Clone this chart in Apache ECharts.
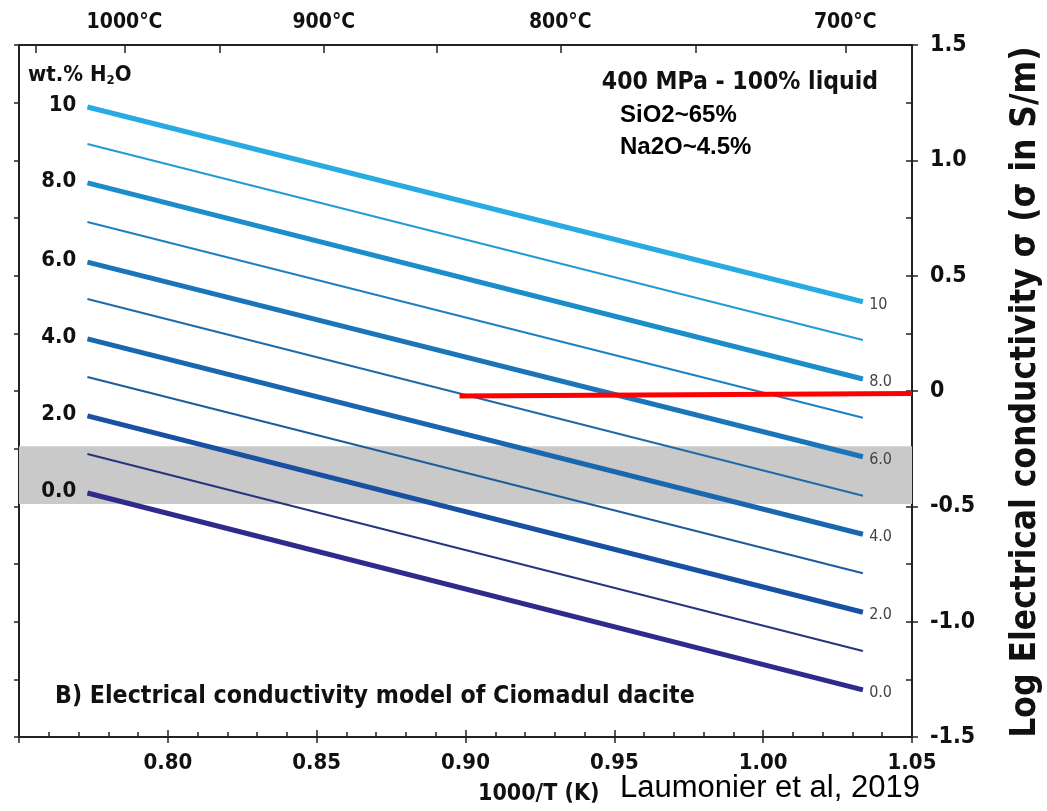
<!DOCTYPE html>
<html>
<head>
<meta charset="utf-8">
<title>Electrical conductivity model of Ciomadul dacite</title>
<script src="https://cdn.jsdelivr.net/npm/echarts@6/dist/echarts.min.js"></script>
<style>
  html, body { margin: 0; padding: 0; background: #fff; }
  #chart { width: 1047px; height: 811px; }
</style>
</head>
<body>
<div id="chart"></div>
<script>
// water contents (wt.% H2O), one line each
const h2oContents = [0, 1, 2, 3, 4, 5, 6, 7, 8, 9, 10];
// 1000/T at the two ends of every line
const lineX = [0.773, 1.0335];
// log sigma at the left and right ends
const logSigmaStart = [-0.442, -0.273, -0.108, 0.061, 0.226, 0.399, 0.559, 0.733, 0.902, 1.071, 1.231];
const logSigmaEnd = [-1.296, -1.127, -0.959, -0.790, -0.621, -0.454, -0.285, -0.116, 0.052, 0.221, 0.387];
const lineColors = ['#2e2b8c', '#25357f', '#1851a3', '#1d5c9a', '#1967ae', '#1f6ba9',
  '#1b76b9', '#1e80bf', '#1b8dcb', '#239bd2', '#27abe2'];
// temperature ticks on the top axis (°C)
const tempTicksC = [1050, 1000, 950, 900, 850, 800, 750, 700];
const tempLabelsC = [1000, 900, 800, 700];
// grey band (log sigma)
const bandRange = [-0.49, -0.24];
// red line
const redLineX = [0.898, 1.05];
const redLineY = [-0.022, -0.011];

const condensed = '"Liberation Sans Narrow", "DejaVu Sans Condensed", sans-serif';
const arial = '"Liberation Sans", Arial, sans-serif';

const toInvT = (c) => 1000 / (c + 273.15);
const waterLabel = (w) => (w === 10 ? '10' : w.toFixed(1));

const chart = echarts.init(document.getElementById('chart'));

const lineSeries = h2oContents.map((w, i) => {
  const even = w % 2 === 0;
  return {
    name: w + ' wt.%',
    type: 'line',
    z: 3,
    symbol: 'circle',
    symbolSize: 0.5,
    silent: true,
    lineStyle: { color: lineColors[i], width: even ? 5 : 2 },
    itemStyle: { color: lineColors[i] },
    data: [
      {
        value: [lineX[0], logSigmaStart[i]],
        label: {
          show: even,
          position: 'left',
          distance: 11,
          offset: [0, -2],
          formatter: waterLabel(w),
          color: '#111',
          fontFamily: condensed,
          fontWeight: 'bold',
          fontSize: 22,
        },
      },
      {
        value: [lineX[1], logSigmaEnd[i]],
        label: {
          show: even,
          position: 'right',
          distance: 6,
          offset: [0, 3],
          formatter: waterLabel(w),
          color: '#444',
          fontFamily: condensed,
          fontSize: 16,
        },
      },
    ],
  };
});

const option = {
  animation: false,
  backgroundColor: '#fff',
  grid: { left: 19, right: 135, top: 45, bottom: 74 },
  xAxis: [
    {
      type: 'value',
      position: 'bottom',
      min: 0.75,
      max: 1.05,
      interval: 0.05,
      axisLine: { onZero: false, lineStyle: { color: '#222', width: 2 } },
      axisTick: { inside: true, length: 7, lineStyle: { color: '#222', width: 1.5 } },
      minorTick: { show: true, splitNumber: 5, length: 5, lineStyle: { color: '#222', width: 1.5 } },
      splitLine: { show: false },
      axisLabel: {
        margin: 15,
        color: '#111',
        fontFamily: condensed,
        fontWeight: 'bold',
        fontSize: 22,
        formatter: (v) => (v <= 0.751 ? '' : v.toFixed(2)),
      },
    },
    {
      type: 'value',
      position: 'bottom',
      min: 0.75,
      max: 1.05,
      interval: 0.05,
      axisLine: { show: false, onZero: false },
      axisTick: { length: 6, lineStyle: { color: '#222', width: 1.5 } },
      axisLabel: { show: false },
      splitLine: { show: false },
    },
    {
      type: 'value',
      position: 'top',
      min: 0.75,
      max: 1.05,
      axisLine: { onZero: false, lineStyle: { color: '#222', width: 2 } },
      axisTick: {
        inside: true,
        length: 8,
        lineStyle: { color: '#222', width: 1.5 },
        customValues: tempTicksC.map(toInvT),
      },
      axisLabel: {
        margin: 12,
        color: '#111',
        fontFamily: condensed,
        fontWeight: 'bold',
        fontSize: 21,
        customValues: tempLabelsC.map(toInvT),
        formatter: (v) => Math.round(1000 / v - 273.15) + '°C',
      },
      splitLine: { show: false },
    },
  ],
  yAxis: [
    {
      type: 'value',
      position: 'left',
      min: -1.5,
      max: 1.5,
      interval: 0.25,
      axisLine: { show: true, onZero: false, lineStyle: { color: '#222', width: 2 } },
      axisTick: { show: true, length: 5, lineStyle: { color: '#222', width: 1.5 } },
      axisLabel: { show: false },
      splitLine: { show: false },
    },
    {
      type: 'value',
      position: 'right',
      min: -1.5,
      max: 1.5,
      interval: 0.5,
      axisLine: { show: true, onZero: false, lineStyle: { color: '#222', width: 2 } },
      axisTick: { show: true, length: 6, lineStyle: { color: '#222', width: 1.5 } },
      axisLabel: {
        margin: 18,
        color: '#111',
        fontFamily: condensed,
        fontWeight: 'bold',
        fontSize: 23,
        formatter: (v) => (v === 0 ? '0' : v.toFixed(1)),
      },
      splitLine: { show: false },
    },
    {
      type: 'value',
      position: 'right',
      min: -1.5,
      max: 1.5,
      interval: 0.25,
      axisLine: { show: false, onZero: false },
      axisTick: { show: true, inside: true, length: 6, lineStyle: { color: '#222', width: 1.5 } },
      axisLabel: { show: false },
      splitLine: { show: false },
    },
  ],
  series: [
    {
      name: 'band',
      type: 'line',
      z: 1,
      data: [],
      silent: true,
      markArea: {
        silent: true,
        itemStyle: { color: '#c9c9c9' },
        data: [[{ yAxis: bandRange[1] }, { yAxis: bandRange[0] }]],
      },
    },
    ...lineSeries,
    {
      name: 'red',
      type: 'line',
      z: 5,
      symbol: 'none',
      silent: true,
      lineStyle: { color: '#ff0000', width: 5 },
      data: [[redLineX[0], redLineY[0]], [redLineX[1], redLineY[1]]],
    },
  ],
  graphic: [
    {
      type: 'text',
      left: 28,
      top: 64,
      style: {
        text: '{a|wt.% H}{s|2}{a|O}',
        rich: {
          a: { fontFamily: condensed, fontWeight: 'bold', fontSize: 22, fill: '#111' },
          s: { fontFamily: condensed, fontWeight: 'bold', fontSize: 13, fill: '#111', padding: [12, 0, 0, 0] },
        },
      },
    },
    {
      type: 'text',
      x: 878,
      y: 83,
      style: {
        text: '400 MPa - 100% liquid',
        textAlign: 'right',
        textVerticalAlign: 'middle',
        fontFamily: condensed,
        fontWeight: 'bold',
        fontSize: 24.5,
        fill: '#111',
      },
    },
    {
      type: 'text',
      x: 620,
      y: 115,
      style: {
        text: 'SiO2~65%',
        textVerticalAlign: 'middle',
        fontFamily: arial,
        fontWeight: 'bold',
        fontSize: 24,
        fill: '#000',
      },
    },
    {
      type: 'text',
      x: 620,
      y: 147,
      style: {
        text: 'Na2O~4.5%',
        textVerticalAlign: 'middle',
        fontFamily: arial,
        fontWeight: 'bold',
        fontSize: 24,
        fill: '#000',
      },
    },
    {
      type: 'text',
      x: 55,
      y: 697,
      style: {
        text: 'B) Electrical conductivity model of Ciomadul dacite',
        textVerticalAlign: 'middle',
        fontFamily: condensed,
        fontWeight: 'bold',
        fontSize: 24.7,
        fill: '#111',
      },
    },
    {
      type: 'text',
      x: 478,
      y: 794,
      style: {
        text: '1000/T (K)',
        textVerticalAlign: 'middle',
        fontFamily: condensed,
        fontWeight: 'bold',
        fontSize: 23,
        fill: '#111',
      },
    },
    {
      type: 'text',
      x: 620,
      y: 788,
      style: {
        text: 'Laumonier et al, 2019',
        textVerticalAlign: 'middle',
        fontFamily: arial,
        fontSize: 31,
        fill: '#000',
      },
    },
    {
      type: 'text',
      x: 1026,
      y: 392,
      rotation: Math.PI / 2,
      style: {
        text: 'Log Electrical conductivity σ (σ in S/m)',
        textAlign: 'center',
        textVerticalAlign: 'middle',
        fontFamily: condensed,
        fontWeight: 'bold',
        fontSize: 35,
        fill: '#111',
      },
    },
  ],
};

chart.setOption(option);
</script>
</body>
</html>
